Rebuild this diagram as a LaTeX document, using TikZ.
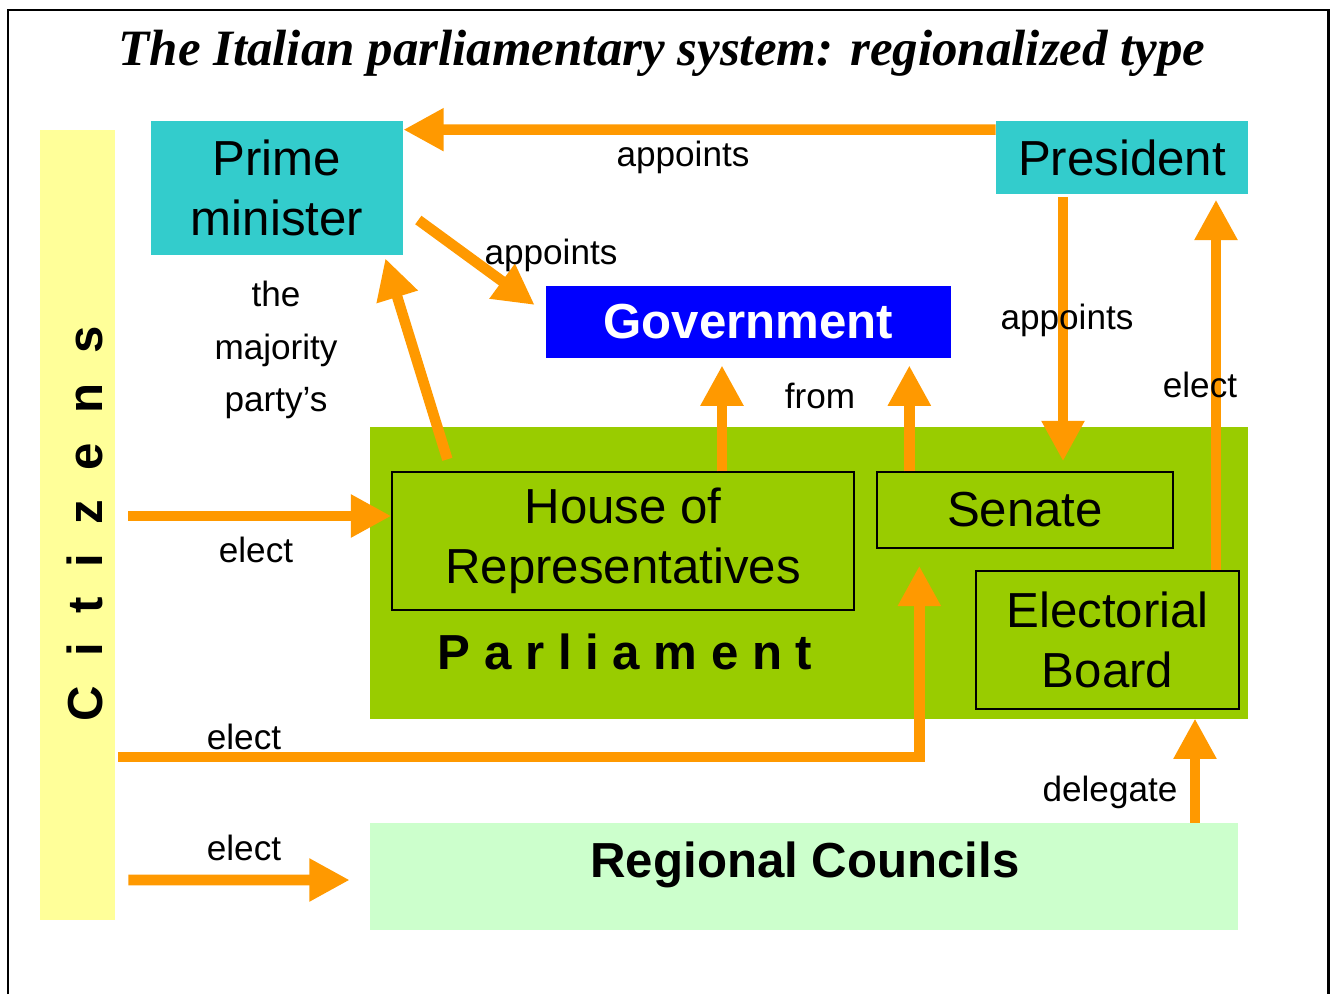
\documentclass[tikz,border=0pt]{standalone}
\usepackage{fontspec}
\setmainfont{Liberation Sans}
\newfontfamily\titlefont{Liberation Serif}
\usepackage{xcolor}
\usetikzlibrary{arrows.meta, positioning, calc}

\definecolor{pmteal}{HTML}{33CCCC}
\definecolor{govblue}{HTML}{0000FF}
\definecolor{parlgreen}{HTML}{99CC00}
\definecolor{regiongreen}{HTML}{CCFFCC}
\definecolor{citizenyellow}{HTML}{FFFF99}
\definecolor{flowcolor}{HTML}{FF9900}
\newcommand{\gap}{\hspace{.6em}}

\begin{document}
\begin{tikzpicture}[
    x=0.02cm, y=-0.02cm,
    box/.style={align=center, inner sep=0pt, font=\fontsize{28}{34}\selectfont},
    subbox/.style={box, draw=black, line width=0.8pt, fill=parlgreen},
    flow/.style={draw=flowcolor, line width=6pt, -{Triangle[length=23pt, width=23pt]}},
    lbl/.style={font=\fontsize{20}{30}\selectfont, align=center, inner sep=0pt}
]
    \useasboundingbox (0,0) rectangle (1332,994);

    % 1. Frame and title
    \draw[line width=1.7pt] (8,994) -- (8,10) -- (1328,10) -- (1328,994);
    \node[font=\titlefont\bfseries\itshape\fontsize{29}{32}\selectfont] (title) at (662,53) {The Italian parliamentary system: regionalized type};

    % 2. Citizens column
    \node[fill=citizenyellow, minimum width=1.5cm, minimum height=15.8cm, inner sep=0pt] (cit) at (77.5,525) {};
    \node[rotate=90, font=\bfseries\fontsize{28}{30}\selectfont] (citname) at (85,524) {C\gap i\gap t\gap i\gap z\gap e\gap n\gap s};

    % 3. Executive boxes
    \node[box, fill=pmteal, minimum width=5.04cm, minimum height=2.68cm] (pm) at (277,188) {Prime\\minister};
    \node[box, fill=pmteal, minimum width=5.04cm, minimum height=1.46cm] (pres) at (1122,157.5) {President};
    \node[box, fill=govblue, text=white, font=\bfseries\fontsize{28}{34}\selectfont, minimum width=8.1cm, minimum height=1.44cm] (gov) at (748.5,322) {Government};

    % 4. Parliament with its chambers
    \node[fill=parlgreen, minimum width=17.56cm, minimum height=5.84cm] (parl) at (809,573) {};
    \node[subbox, minimum width=9.24cm, minimum height=2.76cm] (house) at (623,541) {House of\\Representatives};
    \node[subbox, minimum width=5.92cm, minimum height=1.52cm] (senate) at (1025,510) {Senate};
    \node[subbox, minimum width=5.26cm, minimum height=2.76cm] (board) at (1107.5,640) {Electorial\\Board};
    \node[font=\bfseries\fontsize{28}{30}\selectfont] (parlname) at (625,652) {P a r l i a m e n t};

    % 5. Regional councils
    \node[fill=regiongreen, minimum width=17.36cm, minimum height=2.14cm] (regional) at (804,876.5) {};
    \node[font=\bfseries\fontsize{28}{30}\selectfont] (regname) at ($(regional.center)+(1,-12)$) {Regional Councils};

    % 6. Connectors
    \draw[flow] ($(pres.north west)+(0,9)$) -- ($(pm.north east)+(0,9)$);
    \draw[flow] ($(pm.east)+(15,32)$) -- ($(gov.west)+(-11,-17)$);
    \draw[flow] ($(house.north west)+(56,-12)$) -- ($(pm.south east)+(-18,3)$);
    \draw[flow, shorten >=4pt] ($(house.north)+(99,0)$) coordinate (h1) -- (h1 |- gov.south);
    \draw[flow, shorten >=4pt] ($(senate.north west)+(33,0)$) coordinate (s1) -- (s1 |- gov.south);
    \draw[flow, shorten >=5.7pt] ($(pres.south)+(-59,3)$) coordinate (p1) -- (p1 |- senate.north);
    \draw[flow, shorten >=3pt] ($(board.north)+(108.5,0)$) coordinate (b1) -- (b1 |- pres.south);
    \draw[flow] ($(cit.east)+(13,-9)$) coordinate (c1) -- (c1 -| house.west);
    \draw[flow] ($(cit.east)+(3,232)$) -| ($(senate.south west)+(43,17)$);
    \draw[flow] ($(cit.east)+(13,355)$) -- ($(regional.west)+(-20,3.5)$);
    \draw[flow, shorten >=5pt] ($(regional.north)+(391,0)$) coordinate (r1) -- (r1 |- board.south);

    % 7. Labels
    \node[lbl] (apptop) at (683,157) {appoints};
    \node[lbl] (appgov) at (551,255) {appoints};
    \node[lbl] (majority) at (276,350) {the\\majority\\party’s};
    \node[lbl] (from) at (820,396) {from};
    \node[lbl] (appsen) at (1067,320) {appoints};
    \node[lbl] (elpres) at (1200,385) {elect};
    \node[lbl] (elhouse) at (256,550) {elect};
    \node[lbl] (elsen) at (244,737) {elect};
    \node[lbl] (elreg) at (244,848) {elect};
    \node[lbl] (deleg) at (1110,792) {delegate};

\end{tikzpicture}
\end{document}
